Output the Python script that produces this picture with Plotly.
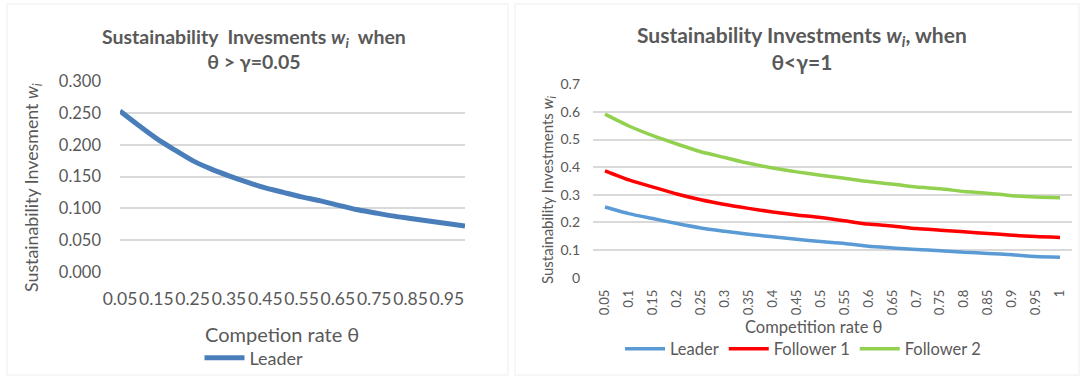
import plotly.graph_objects as go

W, H = 1081, 377

# Competition rate θ (categories)
theta = [0.05, 0.1, 0.15, 0.2, 0.25, 0.3, 0.35, 0.4, 0.45, 0.5,
         0.55, 0.6, 0.65, 0.7, 0.75, 0.8, 0.85, 0.9, 0.95, 1.0]
theta_labels = ["0.05", "0.1", "0.15", "0.2", "0.25", "0.3", "0.35", "0.4", "0.45", "0.5",
                "0.55", "0.6", "0.65", "0.7", "0.75", "0.8", "0.85", "0.9", "0.95", "1"]

# Case θ > γ = 0.05
leader_a = [0.253, 0.231, 0.210, 0.192, 0.175, 0.162, 0.151, 0.141, 0.132, 0.125,
            0.118, 0.112, 0.105, 0.098, 0.093, 0.088, 0.084, 0.080, 0.076, 0.072]
left_tick_vals = [0.05, 0.15, 0.25, 0.35, 0.45, 0.55, 0.65, 0.75, 0.85, 0.95]
left_tick_text = ["0.05", "0.15", "0.25", "0.35", "0.45", "0.55", "0.65", "0.75", "0.85", "0.95"]
left_y_ticks = [0.0, 0.05, 0.1, 0.15, 0.2, 0.25, 0.3]
left_y_text = ["0.000", "0.050", "0.100", "0.150", "0.200", "0.250", "0.300"]

# Case θ < γ = 1
leader_b = [0.256, 0.232, 0.214, 0.196, 0.180, 0.168, 0.157, 0.148, 0.139, 0.131,
            0.124, 0.114, 0.108, 0.102, 0.098, 0.092, 0.088, 0.083, 0.077, 0.074]
follower1 = [0.387, 0.354, 0.328, 0.303, 0.282, 0.265, 0.251, 0.238, 0.227, 0.218,
             0.206, 0.194, 0.187, 0.178, 0.172, 0.166, 0.160, 0.154, 0.149, 0.146]
follower2 = [0.592, 0.549, 0.514, 0.484, 0.456, 0.435, 0.414, 0.397, 0.383, 0.371,
             0.360, 0.348, 0.339, 0.328, 0.322, 0.312, 0.306, 0.297, 0.292, 0.289]
right_y_ticks = [0, 0.1, 0.2, 0.3, 0.4, 0.5, 0.6, 0.7]
right_y_text = ["0", "0.1", "0.2", "0.3", "0.4", "0.5", "0.6", "0.7"]

FONT = "Lato"
GREY = "#595959"
GRID = "#D9D9D9"


def px_x(x):
    return x / W


def px_y(y):
    return 1 - y / H


fig = go.Figure()

fig.add_trace(go.Scatter(
    x=theta, y=leader_a, name="Leader", mode="lines",
    line=dict(color="#4A7EBB", width=5, shape="spline", smoothing=0.6),
    xaxis="x", yaxis="y", legend="legend"))

fig.add_trace(go.Scatter(
    x=theta, y=leader_b, name="Leader", mode="lines",
    line=dict(color="#5B9BD5", width=3.5, shape="spline", smoothing=0.6),
    xaxis="x2", yaxis="y2", legend="legend2"))
fig.add_trace(go.Scatter(
    x=theta, y=follower1, name="Follower 1", mode="lines",
    line=dict(color="#FF0000", width=3.5, shape="spline", smoothing=0.6),
    xaxis="x2", yaxis="y2", legend="legend2"))
fig.add_trace(go.Scatter(
    x=theta, y=follower2, name="Follower 2", mode="lines",
    line=dict(color="#92D050", width=3.5, shape="spline", smoothing=0.6),
    xaxis="x2", yaxis="y2", legend="legend2"))

axis_common = dict(showline=False, zeroline=False, ticks="", gridcolor=GRID, gridwidth=1.5,
                   automargin=False)

fig.update_layout(
    template="simple_white",
    width=W, height=H,
    margin=dict(l=0, r=0, t=0, b=0, pad=0, autoexpand=False),
    paper_bgcolor="white", plot_bgcolor="white",
    font=dict(family=FONT, color=GREY),
    xaxis=dict(domain=[px_x(120), px_x(465)], range=[0.05, 1.0], showgrid=False,
               tickmode="array", tickvals=left_tick_vals, ticktext=left_tick_text,
               tickangle=0, ticklabelstandoff=14, **axis_common,
               tickfont=dict(family=FONT, color=GREY, size=17.5)),
    yaxis=dict(domain=[px_y(272), px_y(81)], range=[-0.0004, 0.3004], showgrid=True,
               tickmode="array", tickvals=left_y_ticks, ticktext=left_y_text,
               ticklabelstandoff=18, **axis_common,
               tickfont=dict(family=FONT, color=GREY, size=16.5)),
    xaxis2=dict(domain=[px_x(593), px_x(1072)], range=[0.025, 1.025], showgrid=False,
                anchor="y2", tickmode="array", tickvals=theta, ticktext=theta_labels,
                tickangle=-90, ticklabelstandoff=8, **axis_common,
                tickfont=dict(family=FONT, color=GREY, size=13)),
    yaxis2=dict(domain=[px_y(278), px_y(84)], range=[-0.001, 0.701], anchor="x2", showgrid=True,
                tickmode="array", tickvals=right_y_ticks, ticktext=right_y_text,
                ticklabelstandoff=12, **axis_common,
                tickfont=dict(family=FONT, color=GREY, size=14)),
    legend=dict(orientation="h", x=px_x(254), xanchor="center", y=px_y(358), yanchor="middle",
                font=dict(family=FONT, color=GREY, size=18), bgcolor="rgba(0,0,0,0)",
                itemwidth=40, tracegroupgap=0),
    legend2=dict(orientation="h", x=px_x(803), xanchor="center", y=px_y(349), yanchor="middle",
                 font=dict(family=FONT, color=GREY, size=16.5), bgcolor="rgba(0,0,0,0)",
                 itemwidth=40, tracegroupgap=0),
    showlegend=True,
)

# Panel frames
for x0, x1 in [(7, 508), (515, 1079)]:
    fig.add_shape(type="rect", xref="paper", yref="paper",
                  x0=px_x(x0), x1=px_x(x1), y0=px_y(375), y1=px_y(4),
                  line=dict(color=GRID, width=1.5), fillcolor="rgba(0,0,0,0)", layer="below")

annotations = [
    # Left chart titles
    dict(x=px_x(254), y=px_y(49), text="<b>Sustainability  Invesments <i>w<sub>i</sub></i>  when<br>θ > γ=0.05</b>",
         font=dict(family=FONT, size=19.5, color=GREY)),
    dict(x=px_x(33), y=px_y(188), text="Sustainability Invesment <i>w<sub>i</sub></i>", textangle=-90,
         font=dict(family=FONT, size=17.8, color=GREY)),
    dict(x=px_x(282), y=px_y(334), text="Competion rate θ",
         font=dict(family=FONT, size=20, color=GREY)),
    # Right chart titles
    dict(x=px_x(802), y=px_y(48), text="<b>Sustainability Investments <i>w<sub>i</sub></i>, when<br>θ<γ=1</b>",
         font=dict(family=FONT, size=21, color=GREY)),
    dict(x=px_x(548), y=px_y(190), text="Sustainability Investments <i>w<sub>i</sub></i>", textangle=-90,
         font=dict(family=FONT, size=15, color=GREY)),
    dict(x=px_x(813), y=px_y(327), text="Competition rate θ",
         font=dict(family=FONT, size=16.5, color=GREY)),
]
for a in annotations:
    fig.add_annotation(xref="paper", yref="paper", showarrow=False,
                       xanchor="center", yanchor="middle", **a)

fig.write_html("out.html", post_script="document.body.style.margin='0';")
